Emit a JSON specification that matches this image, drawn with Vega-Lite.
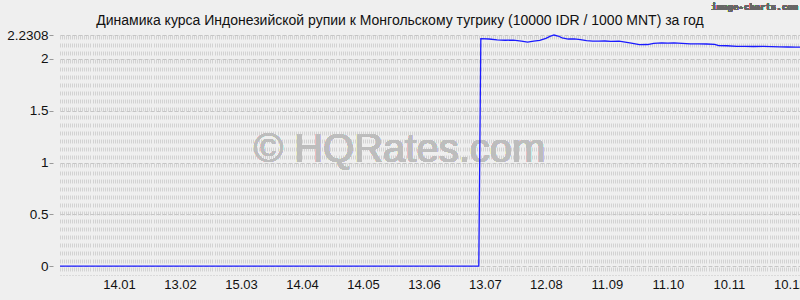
{
  "$schema": "https://vega.github.io/schema/vega-lite/v6.json",
  "width": 740,
  "height": 240,
  "autosize": {"type": "none"},
  "padding": {"left": 60, "top": 35, "right": 0, "bottom": 25},
  "background": "#efefef",
  "config": {
    "view": {"stroke": null},
    "font": "Liberation Sans"
  },
  "title": {
    "text": "Динамика курса Индонезийской рупии к Монгольскому тугрику (10000 IDR / 1000 MNT) за год",
    "fontSize": 14,
    "fontWeight": "normal",
    "color": "#111111",
    "font": "Liberation Sans",
    "anchor": "middle",
    "frame": "group",
    "dx": -30,
    "offset": 0,
    "dy": 25
  },
  "data": {
    "values": [
      {"date": "2022/12/16", "value": 0},
      {"date": "2023/02/01", "value": 0},
      {"date": "2023/04/01", "value": 0},
      {"date": "2023/06/01", "value": 0},
      {"date": "2023/07/10", "value": 0},
      {"date": "2023/07/11", "value": 2.195},
      {"date": "2023/07/15", "value": 2.192},
      {"date": "2023/07/19", "value": 2.183},
      {"date": "2023/07/23", "value": 2.180},
      {"date": "2023/07/27", "value": 2.181},
      {"date": "2023/07/31", "value": 2.172},
      {"date": "2023/08/03", "value": 2.163},
      {"date": "2023/08/06", "value": 2.172},
      {"date": "2023/08/09", "value": 2.178},
      {"date": "2023/08/12", "value": 2.198},
      {"date": "2023/08/14", "value": 2.218},
      {"date": "2023/08/16", "value": 2.2308},
      {"date": "2023/08/18", "value": 2.221},
      {"date": "2023/08/20", "value": 2.203},
      {"date": "2023/08/23", "value": 2.192},
      {"date": "2023/08/26", "value": 2.194},
      {"date": "2023/08/29", "value": 2.186},
      {"date": "2023/09/01", "value": 2.176},
      {"date": "2023/09/04", "value": 2.172},
      {"date": "2023/09/07", "value": 2.171},
      {"date": "2023/09/10", "value": 2.173},
      {"date": "2023/09/13", "value": 2.170},
      {"date": "2023/09/17", "value": 2.171},
      {"date": "2023/09/20", "value": 2.163},
      {"date": "2023/09/23", "value": 2.152},
      {"date": "2023/09/27", "value": 2.137},
      {"date": "2023/10/01", "value": 2.139},
      {"date": "2023/10/04", "value": 2.150},
      {"date": "2023/10/08", "value": 2.155},
      {"date": "2023/10/11", "value": 2.153},
      {"date": "2023/10/14", "value": 2.154},
      {"date": "2023/10/18", "value": 2.150},
      {"date": "2023/10/22", "value": 2.146},
      {"date": "2023/10/26", "value": 2.146},
      {"date": "2023/10/30", "value": 2.144},
      {"date": "2023/11/03", "value": 2.141},
      {"date": "2023/11/05", "value": 2.129},
      {"date": "2023/11/09", "value": 2.127},
      {"date": "2023/11/14", "value": 2.122},
      {"date": "2023/11/18", "value": 2.121},
      {"date": "2023/11/22", "value": 2.120},
      {"date": "2023/11/27", "value": 2.121},
      {"date": "2023/12/01", "value": 2.118},
      {"date": "2023/12/05", "value": 2.116},
      {"date": "2023/12/09", "value": 2.115},
      {"date": "2023/12/13", "value": 2.114},
      {"date": "2023/12/15", "value": 2.114}
    ]
  },
  "encoding": {
    "x": {
      "field": "date",
      "type": "temporal",
      "scale": {"domain": [{"year": 2022, "month": 12, "date": 16}, {"year": 2023, "month": 12, "date": 15}]},
      "axis": {
        "title": null,
        "tickCount": {"interval": "day", "step": 1},
        "labelExpr": "(round((datum.value - datetime(2023,0,14)) / 864e5) % 30 == 0) ? timeFormat(datum.value, '%d.%m') : ''",
        "labelOverlap": false,
        "labelBound": false,
        "labelFlush": false,
        "ticks": false,
        "tickSize": 0,
        "labelPadding": 3,
        "labelFontSize": 13,
        "labelColor": "#111111",
        "labelFont": "Liberation Sans",
        "domain": true,
        "domainColor": "#c4c4c4",
        "domainDash": [1, 2],
        "grid": true,
        "gridColor": "#d2d2d2",
        "gridDash": [4, 4],
        "gridWidth": 1
      }
    },
    "y": {
      "field": "value",
      "type": "quantitative",
      "scale": {"domain": [-0.085, 2.2308], "nice": false, "zero": false},
      "axis": {
        "title": null,
        "values": [0, 0.5, 1, 1.5, 2, 2.2308],
        "labelExpr": "datum.value == 2.2308 ? '2.2308' : format(datum.value, '')",
        "offset": 7,
        "domain": false,
        "ticks": true,
        "tickSize": 4,
        "tickColor": "#999999",
        "labelPadding": 1,
        "labelFontSize": 13.5,
        "labelColor": "#111111",
        "labelFont": "Liberation Sans",
        "grid": true,
        "gridColor": "#c6c6c6",
        "gridDash": [4, 2],
        "labelOverlap": false,
        "labelBound": false,
        "labelFlush": false
      }
    }
  },
  "layer": [
    {
      "mark": {"type": "text", "text": "© HQRates.com", "fontSize": 40, "font": "Liberation Sans", "color": "#bdbdbd", "opacity": 0.8, "align": "center", "baseline": "alphabetic"},
      "encoding": {
        "x": {"datum": {"year": 2023, "month": 6, "date": 1}, "type": "temporal"},
        "y": {"datum": 1.01, "type": "quantitative"}
      }
    },
    {
      "mark": {"type": "line", "color": "#1a1aff", "strokeWidth": 1.3, "interpolate": "linear"}
    },
    {
      "mark": {"type": "text", "text": "image-charts.com", "fontSize": 9, "fontWeight": "bold", "font": "DejaVu Sans Mono", "color": "#666666", "align": "right", "baseline": "alphabetic", "clip": false},
      "encoding": {
        "x": {"datum": {"year": 2023, "month": 12, "date": 14}, "type": "temporal"},
        "y": {"datum": 2.472, "type": "quantitative"}
      }
    }
  ]
}
